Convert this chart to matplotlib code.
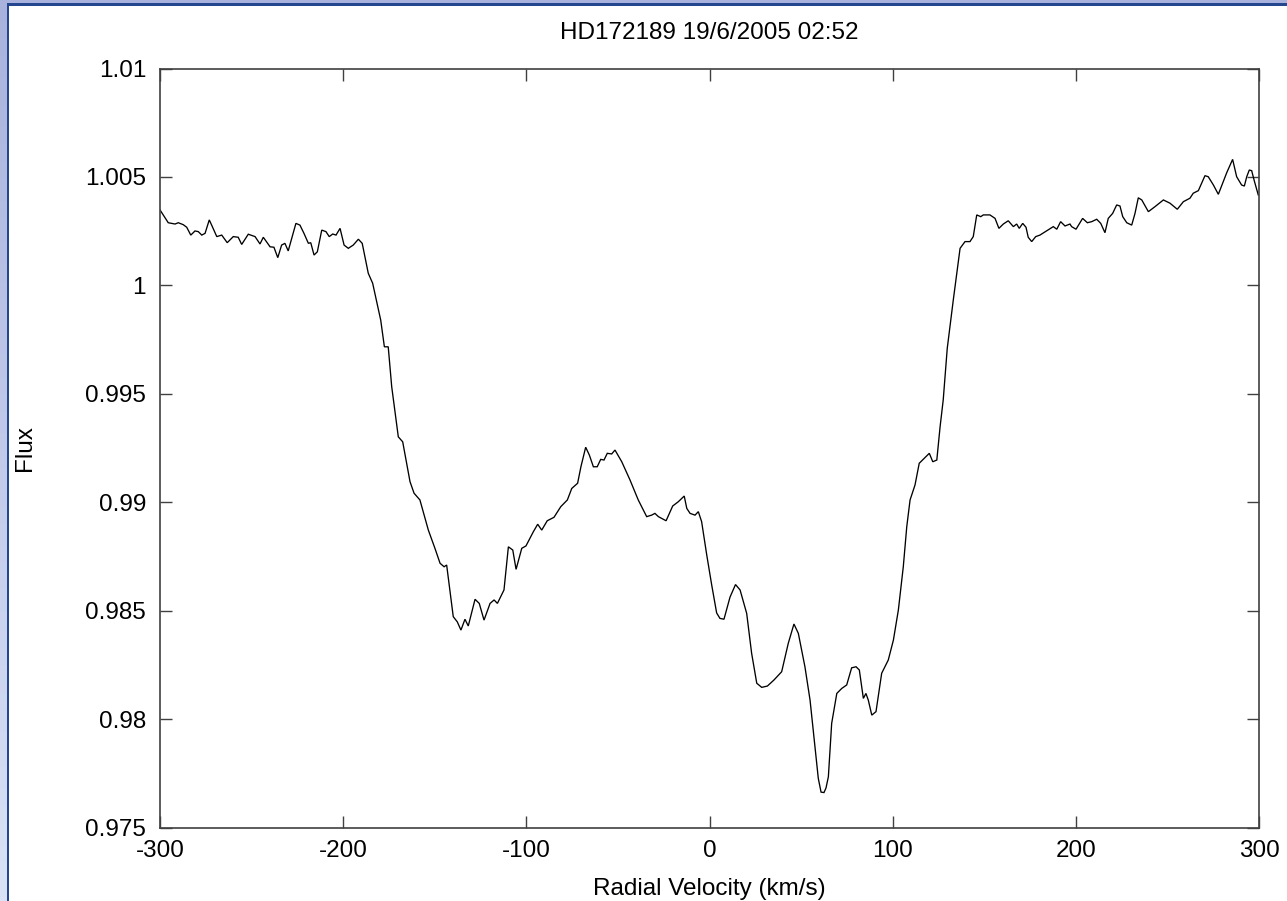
import numpy as np
import matplotlib
matplotlib.use("Agg")
import matplotlib.pyplot as plt
from matplotlib.colors import LinearSegmentedColormap

# Radial velocity profile (km/s) and normalised flux
velocity = [
    -300.0, -295.5, -291.8, -290.0, -287.3, -285.4, -283.2, -280.9, -279.1, -277.2,
    -275.4, -273.1, -271.8, -269.0, -266.3, -263.3, -260.0, -257.3, -255.4, -251.8,
    -248.1, -245.4, -243.6, -239.9, -237.8, -235.7, -233.6, -231.8, -230.0, -228.1,
    -225.8, -223.6, -221.4, -219.0, -217.7, -215.9, -214.1, -211.7, -209.4, -207.6,
    -205.7, -203.9, -201.7, -199.5, -197.2, -194.5, -191.7, -189.6, -186.3, -183.9,
    -179.5, -177.5, -175.4, -173.5, -169.9, -167.5, -163.5, -161.3, -158.1, -153.5,
    -149.9, -147.1, -144.9, -143.5, -139.9, -137.7, -135.7, -133.5, -131.7, -128.0,
    -125.7, -123.1, -119.8, -117.6, -115.8, -112.2, -109.8, -107.4, -105.6, -102.5,
    -100.2, -96.2, -93.8, -91.6, -88.6, -84.9, -81.2, -77.6, -75.2, -72.0,
    -70.2, -67.6, -65.6, -63.4, -61.3, -59.4, -57.6, -55.8, -53.4, -51.6,
    -47.9, -43.4, -38.9, -34.3, -31.6, -29.8, -27.9, -23.7, -20.1, -17.0,
    -13.8, -12.4, -10.6, -7.9, -6.1, -4.3, -1.5, 1.2, 3.9, 5.7,
    7.9, 11.2, 14.2, 16.7, 18.5, 20.3, 23.0, 25.8, 28.5, 31.6,
    35.2, 39.4, 43.0, 46.1, 48.5, 52.1, 54.9, 57.6, 59.4, 60.9,
    62.5, 63.6, 64.9, 66.7, 69.5, 72.2, 74.9, 77.6, 80.0, 81.8,
    84.0, 85.4, 86.7, 88.6, 90.9, 94.0, 97.6, 100.4, 103.1, 105.8,
    107.7, 109.5, 112.2, 114.5, 117.7, 120.0, 121.9, 124.1, 125.9, 127.6,
    129.8, 133.1, 136.8, 139.5, 142.2, 144.0, 145.9, 148.1, 149.5, 153.1,
    155.9, 158.0, 160.4, 163.1, 165.9, 167.7, 169.1, 171.0, 172.8, 174.0,
    175.9, 178.1, 180.4, 184.1, 187.7, 189.6, 191.7, 194.1, 196.8, 197.7,
    200.1, 203.7, 206.3, 208.7, 211.4, 213.6, 215.9, 217.7, 220.1, 222.3,
    224.1, 225.6, 227.8, 230.5, 232.3, 234.1, 236.0, 239.6, 243.2, 247.8,
    251.4, 255.4, 258.7, 262.3, 264.1, 266.9, 270.5, 272.3, 275.1, 277.8,
    280.5, 282.4, 285.6, 287.8, 290.5, 292.0, 293.3, 294.7, 296.0, 297.3,
    299.6,
]
flux = [
    1.00348, 1.00289, 1.00283, 1.00289, 1.00280, 1.00268, 1.00232, 1.00251, 1.00248, 1.00232,
    1.00240, 1.00302, 1.00278, 1.00225, 1.00232, 1.00197, 1.00225, 1.00222, 1.00189, 1.00236,
    1.00225, 1.00191, 1.00222, 1.00178, 1.00176, 1.00128, 1.00186, 1.00194, 1.00159, 1.00217,
    1.00286, 1.00278, 1.00240, 1.00194, 1.00197, 1.00140, 1.00155, 1.00255, 1.00248, 1.00225,
    1.00237, 1.00232, 1.00263, 1.00186, 1.00171, 1.00186, 1.00213, 1.00194, 1.00056, 1.00010,
    0.99840, 0.99717, 0.99717, 0.99533, 0.99302, 0.99279, 0.99095, 0.99042, 0.99011, 0.98872,
    0.98788, 0.98719, 0.98703, 0.98711, 0.98473, 0.98449, 0.98411, 0.98461, 0.98430, 0.98553,
    0.98534, 0.98457, 0.98534, 0.98550, 0.98534, 0.98596, 0.98795, 0.98780, 0.98691, 0.98788,
    0.98799, 0.98864, 0.98899, 0.98872, 0.98915, 0.98931, 0.98980, 0.99011, 0.99064, 0.99088,
    0.99164, 0.99254, 0.99218, 0.99164, 0.99164, 0.99198, 0.99195, 0.99226, 0.99223, 0.99241,
    0.99187, 0.99103, 0.99011, 0.98934, 0.98941, 0.98949, 0.98934, 0.98915, 0.98983, 0.99003,
    0.99029, 0.98972, 0.98949, 0.98941, 0.98957, 0.98911, 0.98757, 0.98619, 0.98490, 0.98465,
    0.98461, 0.98563, 0.98621, 0.98596, 0.98542, 0.98488, 0.98304, 0.98166, 0.98147, 0.98153,
    0.98181, 0.98219, 0.98350, 0.98439, 0.98396, 0.98242, 0.98088, 0.97873, 0.97727, 0.97664,
    0.97662, 0.97683, 0.97735, 0.97981, 0.98119, 0.98142, 0.98158, 0.98237, 0.98242, 0.98227,
    0.98096, 0.98119, 0.98088, 0.98019, 0.98035, 0.98212, 0.98273, 0.98365, 0.98503, 0.98703,
    0.98888, 0.99011, 0.99080, 0.99180, 0.99207, 0.99226, 0.99187, 0.99195, 0.99349, 0.99472,
    0.99710, 0.99933, 1.00171, 1.00202, 1.00202, 1.00225, 1.00325, 1.00317, 1.00325, 1.00325,
    1.00309, 1.00263, 1.00283, 1.00298, 1.00271, 1.00283, 1.00263, 1.00286, 1.00268, 1.00222,
    1.00202, 1.00225, 1.00232, 1.00252, 1.00271, 1.00259, 1.00294, 1.00274, 1.00283, 1.00271,
    1.00259, 1.00309, 1.00289, 1.00294, 1.00305, 1.00286, 1.00243, 1.00309, 1.00332, 1.00371,
    1.00366, 1.00317, 1.00289, 1.00278, 1.00332, 1.00404, 1.00394, 1.00340, 1.00363, 1.00394,
    1.00379, 1.00351, 1.00386, 1.00402, 1.00425, 1.00437, 1.00506, 1.00501, 1.00463, 1.00420,
    1.00478, 1.00520, 1.00581, 1.00501, 1.00463, 1.00458, 1.00501, 1.00532, 1.00529, 1.00486,
    1.00417,
]

x_ticks = [-300, -200, -100, 0, 100, 200, 300]
x_tick_labels = ["-300", "-200", "-100", "0", "100", "200", "300"]
y_ticks = [0.975, 0.98, 0.985, 0.99, 0.995, 1.0, 1.005, 1.01]
y_tick_labels = ["0.975", "0.98", "0.985", "0.99", "0.995", "1", "1.005", "1.01"]

title_text = "HD172189 19/6/2005 02:52"
x_label = "Radial Velocity (km/s)"
y_label = "Flux"

plt.rcParams["font.family"] = ["Liberation Sans", "DejaVu Sans"]

W, H = 1287, 901
fig = plt.figure(figsize=(W / 100, H / 100), dpi=100)
fig.patch.set_facecolor("white")

# window frame: light blue strips with a dark blue inner edge
frame_light_top = "#a8b2dc"
frame_light_bottom = "#dae2f6"
frame_dark = "#23468f"

left_ax = fig.add_axes([0, 0, 7 / W, 1])
grad = np.linspace(0, 1, 256).reshape(-1, 1)
cmap = LinearSegmentedColormap.from_list("frame", [frame_light_top, frame_light_bottom])
left_ax.imshow(grad, aspect="auto", cmap=cmap, extent=[0, 1, 0, 1], origin="upper")
left_ax.set_axis_off()
fig.add_artist(plt.Rectangle((7 / W, 0), 2 / W, 1, transform=fig.transFigure,
                             facecolor=frame_dark, edgecolor="none", zorder=5))
fig.add_artist(plt.Rectangle((0, 1 - 3.5 / H), 1, 3.5 / H, transform=fig.transFigure,
                             facecolor=frame_light_top, edgecolor="none", zorder=5))
fig.add_artist(plt.Rectangle((7 / W, 1 - 6 / H), 1, 2.5 / H, transform=fig.transFigure,
                             facecolor=frame_dark, edgecolor="none", zorder=5))

# plotting area
x0, x1 = 160, 1259
y_top, y_bot = 68.5, 827.7
ax = fig.add_axes([x0 / W, 1 - y_bot / H, (x1 - x0) / W, (y_bot - y_top) / H])
ax.plot(velocity, flux, color="black", linewidth=0.95, solid_joinstyle="miter")

ax.set_xlim(-300, 300)
ax.set_ylim(0.975, 1.01)
ax.set_xticks(x_ticks)
ax.set_xticklabels(x_tick_labels)
ax.set_yticks(y_ticks)
ax.set_yticklabels(y_tick_labels)

frame_col = "#404040"
for s in ax.spines.values():
    s.set_color(frame_col)
    s.set_linewidth(1.2)
ax.tick_params(direction="in", length=8.6, width=1.0, color=frame_col,
               top=True, right=True, labelsize=17.5, labelcolor="black")
ax.tick_params(axis="x", pad=9)
ax.tick_params(axis="y", pad=10)

fig.text((x0 + x1) / 2 / W, 1 - 33 / H, title_text, ha="center", va="center",
         fontsize=17.5, color="black")
fig.text((x0 + x1) / 2 / W, 1 - 889 / H, x_label, ha="center", va="center",
         fontsize=17.5, color="black")
fig.text(25 / W, 1 - 448 / H, y_label, ha="center", va="center", rotation=90,
         fontsize=17.5, color="black")

fig.savefig("out.png", dpi=100)
